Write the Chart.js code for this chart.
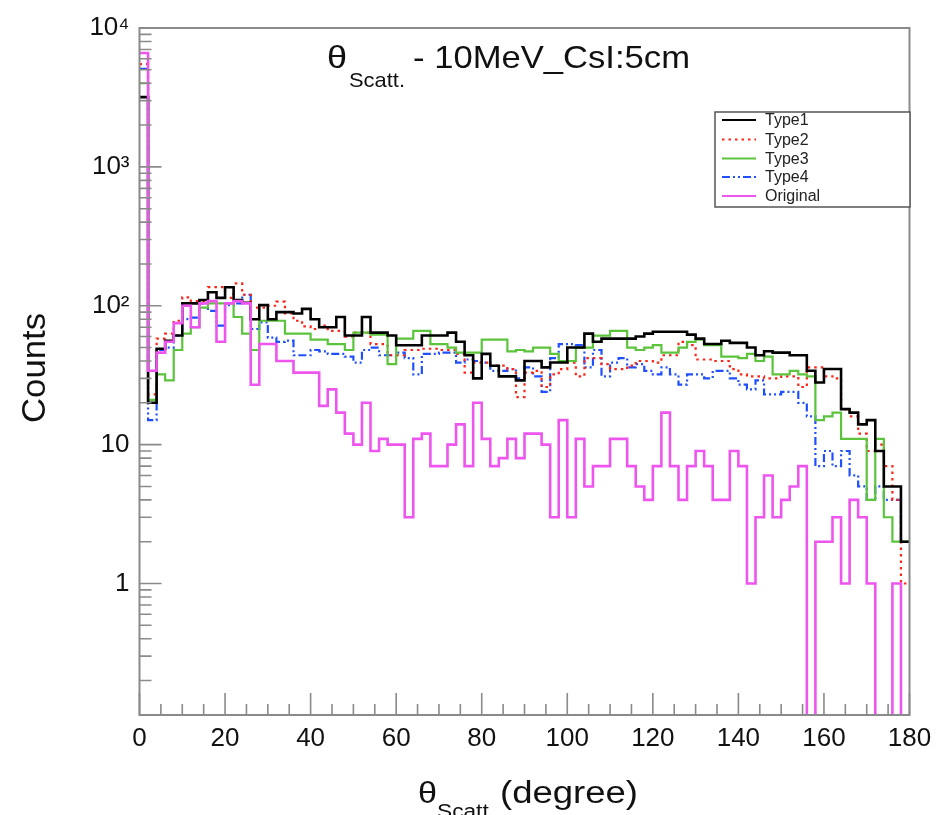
<!DOCTYPE html>
<html>
<head>
<meta charset="utf-8">
<script src="https://cdn.jsdelivr.net/npm/chart.js@4.4.1/dist/chart.umd.min.js"></script>
<style>
html,body{margin:0;padding:0;background:#fff;}
#wrap{width:937px;height:815px;position:relative;}
canvas{display:block;}
</style>
</head>
<body>
<div id="wrap"><canvas id="c" width="937" height="815"></canvas></div>
<script>
// ---------- data ----------
const binLowEdges = [
  0,2,4,6,8,10,12,14,16,18,
  20,22,24,26,28,30,32,34,36,38,
  40,42,44,46,48,50,52,54,56,58,
  60,62,64,66,68,70,72,74,76,78,
  80,82,84,86,88,90,92,94,96,98,
  100,102,104,106,108,110,112,114,116,118,
  120,122,124,126,128,130,132,134,136,138,
  140,142,144,146,148,150,152,154,156,158,
  160,162,164,166,168,170,172,174,176,178
];
const xUpperEdge = 180;
const xTickValues = [0,20,40,60,80,100,120,140,160,180];
const yTickValues = [1,10,100,1000,10000];
const yTickLabels = ['1','10','10\u00B2','10\u00B3','10\u2074'];
const seriesNames = ['Type1','Type2','Type3','Type4','Original'];

const type1 = [
  3180,20,49,56,61,104,104,110,125,114,
  136,110,105,80,101,80,90,90,88,95,
  80,70,70,83,61,61,83,64,64,61,
  52,52,52,61,61,61,64,55,44,30,
  45,37,31,31,29,40,40,36,39,39,
  50,50,63,55,58,58,58,58,60,63,
  65,65,65,65,62,58,53,53,56,54,
  54,50,44,47,46,46,44,44,34,28,
  35,35,18,17,14,15,9,5,5,2
];
const type2 = [
  5500,23,58,63,78,115,108,108,136,136,
  114,145,120,97,97,100,107,88,78,71,
  68,72,66,66,60,64,64,53,53,44,
  44,48,48,49,49,48,48,45,33,39,
  39,37,37,35,22,33,34,26,32,35,
  39,31,42,42,38,35,35,37,40,40,
  39,44,44,55,52,41,41,40,40,35,
  32,31,31,30,30,31,31,26,36,36,
  31,30,18,16,12,9,10,7,4,1
];
const type3 = [
  4000,21,32,29,48,63,70,97,104,104,
  104,83,63,48,78,78,78,63,63,63,
  57,57,53,53,48,64,64,62,62,38,
  58,58,66,66,53,53,50,46,46,46,
  57,57,57,47,48,47,50,50,45,40,
  40,50,50,61,61,66,66,50,48,50,
  52,46,46,50,55,57,52,52,43,43,
  42,45,40,43,32,32,34,32,31,15,
  16,17,11,11,11,4,11,3,2,2
];
const type4 = [
  5070,15,48,50,61,80,82,104,92,72,
  101,104,120,68,76,59,55,56,44,44,
  48,47,45,45,43,39,48,50,44,44,
  46,42,32,45,45,46,46,39,41,40,
  39,34,34,35,30,36,31,24,42,53,
  53,52,36,48,31,39,42,36,38,34,
  32,36,32,27,32,32,30,34,34,30,
  27,25,29,23,23,24,24,20,16,7,
  9,7,9,6,5,4,5,4,4,2
];
const original = [
  6600,34,46,55,75,100,70,104,108,55,
  104,108,104,27,53,53,40,40,33,33,
  33,19,25,17,12,10,20,9,11,10,
  10,3,11,12,7,7,10,14,7,20,
  11,7,8,11,8,12,12,10,3,15,
  3,11,5,7,7,11,11,7,5,4,
  7,17,7,4,7,9,7,4,4,9,
  7,1,3,6,3,4,5,7,0,2,
  2,3,1,4,3,1,0,0,1,0
];

// ---------- styling ----------
const FONT = '"Liberation Sans", Arial, Helvetica, sans-serif';
const ZERO_FLOOR = 1e-3; // empty bins drawn down to (below) the axis, as ROOT does
const styles = [
  {color:'#000000', width:2.6, dash:[],              order:1},
  {color:'#ff2418', width:2.2, dash:[2.5,4],         order:3},
  {color:'#5cc43c', width:2.2, dash:[],              order:2},
  {color:'#1f4fff', width:2.2, dash:[8,3,2,3,2,3],   order:4},
  {color:'#ee55ee', width:2.6, dash:[],              order:0}
];
const allSeries = [type1, type2, type3, type4, original];

function histPoints(vals){
  const pts = binLowEdges.map((e,i)=>({x:e, y: vals[i] > 0 ? vals[i] : ZERO_FLOOR}));
  const last = vals[vals.length-1];
  pts.push({x:xUpperEdge, y: last > 0 ? last : ZERO_FLOOR});
  return pts;
}

const datasets = allSeries.map((vals,i)=>({
  label: seriesNames[i],
  data: histPoints(vals),
  stepped: 'before',
  borderColor: styles[i].color,
  borderWidth: styles[i].width,
  borderDash: styles[i].dash,
  pointRadius: 0,
  fill: false,
  order: styles[i].order,
  tension: 0
}));

function fitText(ctx, text, x, y, font, width){
  ctx.font = font;
  const w = ctx.measureText(text).width;
  const s = width / w;
  ctx.save();
  ctx.translate(x, y);
  ctx.scale(s, 1);
  ctx.textAlign = 'left';
  ctx.textBaseline = 'alphabetic';
  ctx.fillText(text, 0, 0);
  ctx.restore();
}

const rootPlugin = {
  id: 'rootStyle',
  afterDatasetsDraw(chart){
    const ctx = chart.ctx;
    const a = chart.chartArea;
    const xs = chart.scales.x, ys = chart.scales.y;
    ctx.save();
    ctx.strokeStyle = '#8a8a8a';
    ctx.lineWidth = 2;
    ctx.setLineDash([]);
    // frame
    ctx.strokeRect(a.left, a.top, a.right - a.left, a.bottom - a.top);
    // x tick marks (inside, upward)
    ctx.lineWidth = 1.6;
    ctx.beginPath();
    for (let v = 0; v <= 180; v += 5){
      const px = xs.getPixelForValue(v);
      const len = (v % 20 === 0) ? 22 : 11;
      ctx.moveTo(px, a.bottom); ctx.lineTo(px, a.bottom - len);
    }
    // y tick marks (inside, rightward), log minor ticks
    for (let d = -1; d <= 3; d++){
      for (let m = 1; m <= 9; m++){
        const v = m * Math.pow(10, d);
        if (v < ys.min || v > ys.max) continue;
        const py = ys.getPixelForValue(v);
        const len = (m === 1) ? 22 : 12;
        ctx.moveTo(a.left, py); ctx.lineTo(a.left + len, py);
      }
    }
    ctx.stroke();

    // legend box
    const lx = 715, ly = 112, lw = 195, lh = 95;
    ctx.fillStyle = '#ffffff';
    ctx.fillRect(lx, ly, lw, lh);
    ctx.strokeStyle = '#555555';
    ctx.lineWidth = 1.5;
    ctx.strokeRect(lx, ly, lw, lh);
    const rowY = [120, 139.5, 158.5, 177, 196];
    seriesNames.forEach((name, i)=>{
      const y = rowY[i];
      ctx.strokeStyle = styles[i].color;
      ctx.lineWidth = 2.2;
      ctx.setLineDash(styles[i].dash);
      ctx.beginPath(); ctx.moveTo(722, y); ctx.lineTo(756, y); ctx.stroke();
      ctx.setLineDash([]);
      ctx.fillStyle = '#222222';
      ctx.font = '16px ' + FONT;
      ctx.textBaseline = 'middle';
      ctx.textAlign = 'left';
      ctx.fillText(name, 765, y + 1);
    });

    // title
    ctx.fillStyle = '#111111';
    fitText(ctx, '\u03B8', 327, 68, '32px ' + FONT, 20);
    fitText(ctx, 'Scatt.', 349, 87, '21px ' + FONT, 56);
    fitText(ctx, '- 10MeV_CsI:5cm', 413, 68, '32px ' + FONT, 277);

    // x-axis title
    fitText(ctx, '\u03B8', 418, 803, '29px ' + FONT, 19);
    fitText(ctx, 'Scatt.', 437, 818, '20px ' + FONT, 58);
    fitText(ctx, '(degree)', 500, 803, '31px ' + FONT, 138);

    // y-axis title (rotated)
    ctx.save();
    ctx.translate(45, 423);
    ctx.rotate(-Math.PI/2);
    fitText(ctx, 'Counts', 0, 0, '34px ' + FONT, 110);
    ctx.restore();

    ctx.restore();
  }
};

new Chart(document.getElementById('c'), {
  type: 'line',
  data: { datasets },
  options: {
    responsive: false,
    animation: false,
    devicePixelRatio: 1,
    layout: { padding: { top: 28, right: 27.5, left: 0, bottom: 0 } },
    plugins: { legend: { display: false }, tooltip: { enabled: false }, title: { display: false } },
    scales: {
      x: {
        type: 'linear', min: 0, max: xUpperEdge,
        afterBuildTicks(axis){ axis.ticks = xTickValues.map(v=>({value:v})); },
        afterFit(axis){ axis.height = 100; axis.paddingLeft = 0; axis.paddingRight = 0; },
        grid: { display: false, drawTicks: false },
        border: { display: false },
        ticks: { color: '#111', font: { family: FONT, size: 26 }, padding: 8, maxRotation: 0, autoSkip: false,
                 callback: (v)=> String(v) }
      },
      y: {
        type: 'logarithmic', min: 0.113, max: 10000,
        afterBuildTicks(axis){ axis.ticks = yTickValues.map(v=>({value:v})); },
        afterFit(axis){ axis.width = 139.5; axis.paddingTop = 0; axis.paddingBottom = 0; },
        grid: { display: false, drawTicks: false },
        border: { display: false },
        ticks: { color: '#111', font: { family: FONT, size: 26 }, padding: 10, autoSkip: false,
                 callback: (v)=> { const k = yTickValues.indexOf(v); return k >= 0 ? yTickLabels[k] : ''; } }
      }
    }
  },
  plugins: [rootPlugin]
});
</script>
</body>
</html>
